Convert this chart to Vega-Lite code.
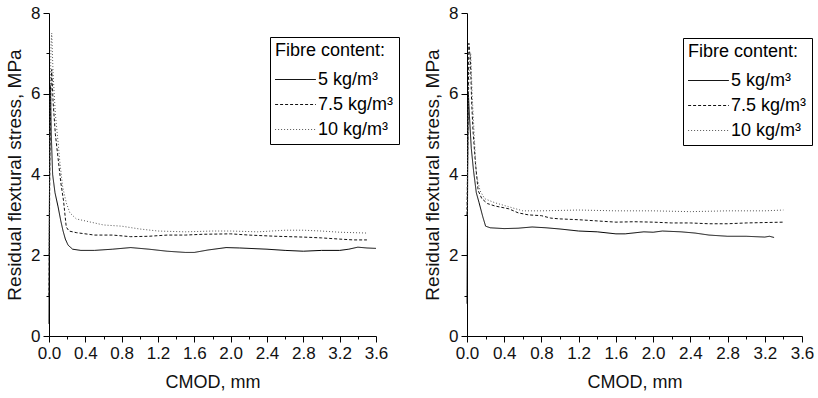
{
  "$schema": "https://vega.github.io/schema/vega-lite/v6.json",
  "background": "white",
  "padding": {"left": 5, "top": 4, "right": 0, "bottom": 2},
  "spacing": 23,
  "datasets": {
    "curves": [
      {"panel": "L", "fibre": "5 kg/m³", "cmod": 0, "stress": 0.3},
      {"panel": "L", "fibre": "5 kg/m³", "cmod": 0.004, "stress": 3.0},
      {"panel": "L", "fibre": "5 kg/m³", "cmod": 0.01, "stress": 5.5},
      {"panel": "L", "fibre": "5 kg/m³", "cmod": 0.016, "stress": 6.2},
      {"panel": "L", "fibre": "5 kg/m³", "cmod": 0.025, "stress": 5.0},
      {"panel": "L", "fibre": "5 kg/m³", "cmod": 0.04, "stress": 4.0},
      {"panel": "L", "fibre": "5 kg/m³", "cmod": 0.066, "stress": 3.55},
      {"panel": "L", "fibre": "5 kg/m³", "cmod": 0.1, "stress": 3.2},
      {"panel": "L", "fibre": "5 kg/m³", "cmod": 0.13, "stress": 2.85},
      {"panel": "L", "fibre": "5 kg/m³", "cmod": 0.155, "stress": 2.6},
      {"panel": "L", "fibre": "5 kg/m³", "cmod": 0.18, "stress": 2.4},
      {"panel": "L", "fibre": "5 kg/m³", "cmod": 0.21, "stress": 2.25},
      {"panel": "L", "fibre": "5 kg/m³", "cmod": 0.26, "stress": 2.15},
      {"panel": "L", "fibre": "5 kg/m³", "cmod": 0.35, "stress": 2.12},
      {"panel": "L", "fibre": "5 kg/m³", "cmod": 0.5, "stress": 2.12},
      {"panel": "L", "fibre": "5 kg/m³", "cmod": 0.7, "stress": 2.15},
      {"panel": "L", "fibre": "5 kg/m³", "cmod": 0.9, "stress": 2.19},
      {"panel": "L", "fibre": "5 kg/m³", "cmod": 1.1, "stress": 2.15},
      {"panel": "L", "fibre": "5 kg/m³", "cmod": 1.3, "stress": 2.1},
      {"panel": "L", "fibre": "5 kg/m³", "cmod": 1.5, "stress": 2.07},
      {"panel": "L", "fibre": "5 kg/m³", "cmod": 1.6, "stress": 2.07},
      {"panel": "L", "fibre": "5 kg/m³", "cmod": 1.75, "stress": 2.13},
      {"panel": "L", "fibre": "5 kg/m³", "cmod": 1.95, "stress": 2.19},
      {"panel": "L", "fibre": "5 kg/m³", "cmod": 2.1, "stress": 2.18},
      {"panel": "L", "fibre": "5 kg/m³", "cmod": 2.4, "stress": 2.15},
      {"panel": "L", "fibre": "5 kg/m³", "cmod": 2.6, "stress": 2.12},
      {"panel": "L", "fibre": "5 kg/m³", "cmod": 2.8, "stress": 2.1},
      {"panel": "L", "fibre": "5 kg/m³", "cmod": 3.0, "stress": 2.12},
      {"panel": "L", "fibre": "5 kg/m³", "cmod": 3.2, "stress": 2.12},
      {"panel": "L", "fibre": "5 kg/m³", "cmod": 3.3, "stress": 2.15},
      {"panel": "L", "fibre": "5 kg/m³", "cmod": 3.4, "stress": 2.2},
      {"panel": "L", "fibre": "5 kg/m³", "cmod": 3.5, "stress": 2.18},
      {"panel": "L", "fibre": "5 kg/m³", "cmod": 3.6, "stress": 2.17},

      {"panel": "L", "fibre": "7.5 kg/m³", "cmod": 0, "stress": 1.0},
      {"panel": "L", "fibre": "7.5 kg/m³", "cmod": 0.01, "stress": 4.5},
      {"panel": "L", "fibre": "7.5 kg/m³", "cmod": 0.02, "stress": 6.0},
      {"panel": "L", "fibre": "7.5 kg/m³", "cmod": 0.03, "stress": 6.6},
      {"panel": "L", "fibre": "7.5 kg/m³", "cmod": 0.045, "stress": 5.8},
      {"panel": "L", "fibre": "7.5 kg/m³", "cmod": 0.07, "stress": 5.0},
      {"panel": "L", "fibre": "7.5 kg/m³", "cmod": 0.1, "stress": 4.4},
      {"panel": "L", "fibre": "7.5 kg/m³", "cmod": 0.13, "stress": 3.8},
      {"panel": "L", "fibre": "7.5 kg/m³", "cmod": 0.16, "stress": 3.35},
      {"panel": "L", "fibre": "7.5 kg/m³", "cmod": 0.19, "stress": 2.7},
      {"panel": "L", "fibre": "7.5 kg/m³", "cmod": 0.22, "stress": 2.6},
      {"panel": "L", "fibre": "7.5 kg/m³", "cmod": 0.3, "stress": 2.56},
      {"panel": "L", "fibre": "7.5 kg/m³", "cmod": 0.5, "stress": 2.5},
      {"panel": "L", "fibre": "7.5 kg/m³", "cmod": 0.7, "stress": 2.5},
      {"panel": "L", "fibre": "7.5 kg/m³", "cmod": 0.9, "stress": 2.46},
      {"panel": "L", "fibre": "7.5 kg/m³", "cmod": 1.1, "stress": 2.47},
      {"panel": "L", "fibre": "7.5 kg/m³", "cmod": 1.3, "stress": 2.5},
      {"panel": "L", "fibre": "7.5 kg/m³", "cmod": 1.5, "stress": 2.5},
      {"panel": "L", "fibre": "7.5 kg/m³", "cmod": 1.7, "stress": 2.52},
      {"panel": "L", "fibre": "7.5 kg/m³", "cmod": 2.0, "stress": 2.53},
      {"panel": "L", "fibre": "7.5 kg/m³", "cmod": 2.2, "stress": 2.5},
      {"panel": "L", "fibre": "7.5 kg/m³", "cmod": 2.5, "stress": 2.47},
      {"panel": "L", "fibre": "7.5 kg/m³", "cmod": 2.8, "stress": 2.45},
      {"panel": "L", "fibre": "7.5 kg/m³", "cmod": 3.0, "stress": 2.43},
      {"panel": "L", "fibre": "7.5 kg/m³", "cmod": 3.2, "stress": 2.4},
      {"panel": "L", "fibre": "7.5 kg/m³", "cmod": 3.35, "stress": 2.38},
      {"panel": "L", "fibre": "7.5 kg/m³", "cmod": 3.5, "stress": 2.38},

      {"panel": "L", "fibre": "10 kg/m³", "cmod": 0, "stress": 2.0},
      {"panel": "L", "fibre": "10 kg/m³", "cmod": 0.012, "stress": 5.5},
      {"panel": "L", "fibre": "10 kg/m³", "cmod": 0.022, "stress": 7.2},
      {"panel": "L", "fibre": "10 kg/m³", "cmod": 0.03, "stress": 7.5},
      {"panel": "L", "fibre": "10 kg/m³", "cmod": 0.045, "stress": 6.5},
      {"panel": "L", "fibre": "10 kg/m³", "cmod": 0.07, "stress": 5.5},
      {"panel": "L", "fibre": "10 kg/m³", "cmod": 0.1, "stress": 4.8},
      {"panel": "L", "fibre": "10 kg/m³", "cmod": 0.12, "stress": 4.3},
      {"panel": "L", "fibre": "10 kg/m³", "cmod": 0.15, "stress": 3.7},
      {"panel": "L", "fibre": "10 kg/m³", "cmod": 0.19, "stress": 3.3},
      {"panel": "L", "fibre": "10 kg/m³", "cmod": 0.23, "stress": 3.05},
      {"panel": "L", "fibre": "10 kg/m³", "cmod": 0.3, "stress": 2.9},
      {"panel": "L", "fibre": "10 kg/m³", "cmod": 0.4, "stress": 2.85},
      {"panel": "L", "fibre": "10 kg/m³", "cmod": 0.6, "stress": 2.75},
      {"panel": "L", "fibre": "10 kg/m³", "cmod": 0.8, "stress": 2.72},
      {"panel": "L", "fibre": "10 kg/m³", "cmod": 1.0, "stress": 2.65},
      {"panel": "L", "fibre": "10 kg/m³", "cmod": 1.2, "stress": 2.6},
      {"panel": "L", "fibre": "10 kg/m³", "cmod": 1.5, "stress": 2.58},
      {"panel": "L", "fibre": "10 kg/m³", "cmod": 1.8, "stress": 2.6},
      {"panel": "L", "fibre": "10 kg/m³", "cmod": 2.0, "stress": 2.6},
      {"panel": "L", "fibre": "10 kg/m³", "cmod": 2.3, "stress": 2.58},
      {"panel": "L", "fibre": "10 kg/m³", "cmod": 2.6, "stress": 2.62},
      {"panel": "L", "fibre": "10 kg/m³", "cmod": 2.8, "stress": 2.62},
      {"panel": "L", "fibre": "10 kg/m³", "cmod": 3.0, "stress": 2.6},
      {"panel": "L", "fibre": "10 kg/m³", "cmod": 3.2, "stress": 2.57},
      {"panel": "L", "fibre": "10 kg/m³", "cmod": 3.5, "stress": 2.55},

      {"panel": "R", "fibre": "5 kg/m³", "cmod": 0, "stress": 0.8},
      {"panel": "R", "fibre": "5 kg/m³", "cmod": 0.005, "stress": 3.0},
      {"panel": "R", "fibre": "5 kg/m³", "cmod": 0.01, "stress": 5.3},
      {"panel": "R", "fibre": "5 kg/m³", "cmod": 0.015, "stress": 6.0},
      {"panel": "R", "fibre": "5 kg/m³", "cmod": 0.025, "stress": 5.5},
      {"panel": "R", "fibre": "5 kg/m³", "cmod": 0.046, "stress": 4.65},
      {"panel": "R", "fibre": "5 kg/m³", "cmod": 0.07, "stress": 4.1},
      {"panel": "R", "fibre": "5 kg/m³", "cmod": 0.1, "stress": 3.55},
      {"panel": "R", "fibre": "5 kg/m³", "cmod": 0.13, "stress": 3.3},
      {"panel": "R", "fibre": "5 kg/m³", "cmod": 0.17, "stress": 2.95},
      {"panel": "R", "fibre": "5 kg/m³", "cmod": 0.2, "stress": 2.72},
      {"panel": "R", "fibre": "5 kg/m³", "cmod": 0.25, "stress": 2.68},
      {"panel": "R", "fibre": "5 kg/m³", "cmod": 0.4, "stress": 2.66},
      {"panel": "R", "fibre": "5 kg/m³", "cmod": 0.55, "stress": 2.67},
      {"panel": "R", "fibre": "5 kg/m³", "cmod": 0.7, "stress": 2.7},
      {"panel": "R", "fibre": "5 kg/m³", "cmod": 0.85, "stress": 2.68},
      {"panel": "R", "fibre": "5 kg/m³", "cmod": 1.0, "stress": 2.65},
      {"panel": "R", "fibre": "5 kg/m³", "cmod": 1.2, "stress": 2.6},
      {"panel": "R", "fibre": "5 kg/m³", "cmod": 1.4, "stress": 2.58},
      {"panel": "R", "fibre": "5 kg/m³", "cmod": 1.6, "stress": 2.53},
      {"panel": "R", "fibre": "5 kg/m³", "cmod": 1.7, "stress": 2.53},
      {"panel": "R", "fibre": "5 kg/m³", "cmod": 1.9, "stress": 2.58},
      {"panel": "R", "fibre": "5 kg/m³", "cmod": 2.0, "stress": 2.57},
      {"panel": "R", "fibre": "5 kg/m³", "cmod": 2.1, "stress": 2.6},
      {"panel": "R", "fibre": "5 kg/m³", "cmod": 2.3, "stress": 2.58},
      {"panel": "R", "fibre": "5 kg/m³", "cmod": 2.45, "stress": 2.55},
      {"panel": "R", "fibre": "5 kg/m³", "cmod": 2.6, "stress": 2.5},
      {"panel": "R", "fibre": "5 kg/m³", "cmod": 2.8, "stress": 2.47},
      {"panel": "R", "fibre": "5 kg/m³", "cmod": 3.0, "stress": 2.47},
      {"panel": "R", "fibre": "5 kg/m³", "cmod": 3.2, "stress": 2.45},
      {"panel": "R", "fibre": "5 kg/m³", "cmod": 3.25, "stress": 2.47},
      {"panel": "R", "fibre": "5 kg/m³", "cmod": 3.3, "stress": 2.44},

      {"panel": "R", "fibre": "7.5 kg/m³", "cmod": 0, "stress": 3.0},
      {"panel": "R", "fibre": "7.5 kg/m³", "cmod": 0.01, "stress": 5.0},
      {"panel": "R", "fibre": "7.5 kg/m³", "cmod": 0.02, "stress": 7.25},
      {"panel": "R", "fibre": "7.5 kg/m³", "cmod": 0.03, "stress": 7.0},
      {"panel": "R", "fibre": "7.5 kg/m³", "cmod": 0.036, "stress": 6.9},
      {"panel": "R", "fibre": "7.5 kg/m³", "cmod": 0.05, "stress": 5.8},
      {"panel": "R", "fibre": "7.5 kg/m³", "cmod": 0.065, "stress": 5.07},
      {"panel": "R", "fibre": "7.5 kg/m³", "cmod": 0.09, "stress": 4.3},
      {"panel": "R", "fibre": "7.5 kg/m³", "cmod": 0.12, "stress": 3.6},
      {"panel": "R", "fibre": "7.5 kg/m³", "cmod": 0.16, "stress": 3.4},
      {"panel": "R", "fibre": "7.5 kg/m³", "cmod": 0.22, "stress": 3.28},
      {"panel": "R", "fibre": "7.5 kg/m³", "cmod": 0.3, "stress": 3.22},
      {"panel": "R", "fibre": "7.5 kg/m³", "cmod": 0.45, "stress": 3.15},
      {"panel": "R", "fibre": "7.5 kg/m³", "cmod": 0.55, "stress": 3.05},
      {"panel": "R", "fibre": "7.5 kg/m³", "cmod": 0.66, "stress": 3.0},
      {"panel": "R", "fibre": "7.5 kg/m³", "cmod": 0.8, "stress": 2.98},
      {"panel": "R", "fibre": "7.5 kg/m³", "cmod": 0.9, "stress": 2.92},
      {"panel": "R", "fibre": "7.5 kg/m³", "cmod": 1.0, "stress": 2.9},
      {"panel": "R", "fibre": "7.5 kg/m³", "cmod": 1.2, "stress": 2.88},
      {"panel": "R", "fibre": "7.5 kg/m³", "cmod": 1.4, "stress": 2.85},
      {"panel": "R", "fibre": "7.5 kg/m³", "cmod": 1.6, "stress": 2.82},
      {"panel": "R", "fibre": "7.5 kg/m³", "cmod": 1.8, "stress": 2.83},
      {"panel": "R", "fibre": "7.5 kg/m³", "cmod": 2.0, "stress": 2.82},
      {"panel": "R", "fibre": "7.5 kg/m³", "cmod": 2.2, "stress": 2.8},
      {"panel": "R", "fibre": "7.5 kg/m³", "cmod": 2.4, "stress": 2.8},
      {"panel": "R", "fibre": "7.5 kg/m³", "cmod": 2.6, "stress": 2.78},
      {"panel": "R", "fibre": "7.5 kg/m³", "cmod": 2.8, "stress": 2.78},
      {"panel": "R", "fibre": "7.5 kg/m³", "cmod": 3.0, "stress": 2.8},
      {"panel": "R", "fibre": "7.5 kg/m³", "cmod": 3.2, "stress": 2.81},
      {"panel": "R", "fibre": "7.5 kg/m³", "cmod": 3.4, "stress": 2.82},

      {"panel": "R", "fibre": "10 kg/m³", "cmod": 0, "stress": 3.0},
      {"panel": "R", "fibre": "10 kg/m³", "cmod": 0.012, "stress": 5.5},
      {"panel": "R", "fibre": "10 kg/m³", "cmod": 0.025, "stress": 6.8},
      {"panel": "R", "fibre": "10 kg/m³", "cmod": 0.04, "stress": 7.0},
      {"panel": "R", "fibre": "10 kg/m³", "cmod": 0.055, "stress": 6.0},
      {"panel": "R", "fibre": "10 kg/m³", "cmod": 0.07, "stress": 5.3},
      {"panel": "R", "fibre": "10 kg/m³", "cmod": 0.1, "stress": 4.0},
      {"panel": "R", "fibre": "10 kg/m³", "cmod": 0.14, "stress": 3.6},
      {"panel": "R", "fibre": "10 kg/m³", "cmod": 0.19, "stress": 3.4},
      {"panel": "R", "fibre": "10 kg/m³", "cmod": 0.3, "stress": 3.3},
      {"panel": "R", "fibre": "10 kg/m³", "cmod": 0.45, "stress": 3.2},
      {"panel": "R", "fibre": "10 kg/m³", "cmod": 0.6, "stress": 3.1},
      {"panel": "R", "fibre": "10 kg/m³", "cmod": 0.8, "stress": 3.1},
      {"panel": "R", "fibre": "10 kg/m³", "cmod": 1.2, "stress": 3.12},
      {"panel": "R", "fibre": "10 kg/m³", "cmod": 1.6, "stress": 3.1},
      {"panel": "R", "fibre": "10 kg/m³", "cmod": 2.0, "stress": 3.1},
      {"panel": "R", "fibre": "10 kg/m³", "cmod": 2.4, "stress": 3.08},
      {"panel": "R", "fibre": "10 kg/m³", "cmod": 2.8, "stress": 3.1},
      {"panel": "R", "fibre": "10 kg/m³", "cmod": 3.2, "stress": 3.1},
      {"panel": "R", "fibre": "10 kg/m³", "cmod": 3.4, "stress": 3.12}
    ]
  },
  "config": {
    "font": "Liberation Sans",
    "view": {"stroke": null},
    "axis": {
      "grid": false,
      "domainColor": "#000",
      "tickColor": "#000",
      "labelFont": "Liberation Sans",
      "labelFontSize": 17,
      "labelColor": "#111",
      "titleFont": "Liberation Sans",
      "titleFontSize": 18,
      "titleFontWeight": "normal",
      "titleColor": "#111"
    },
    "legend": {
      "titleFont": "Liberation Sans",
      "titleFontSize": 18,
      "titleFontWeight": "normal",
      "titleColor": "#000",
      "labelFont": "Liberation Sans",
      "labelFontSize": 18,
      "labelColor": "#000",
      "strokeColor": "#000",
      "fillColor": "#fff",
      "padding": 5,
      "rowPadding": 3,
      "titlePadding": 7,
      "symbolType": "M-1.7,0H1.7",
      "symbolSize": 576,
      "symbolOffset": 8,
      "labelOffset": 10,
      "symbolStrokeWidth": 1,
      "orient": "none"
    }
  },
  "resolve": {"scale": {"color": "independent", "strokeDash": "independent"}, "legend": {"color": "independent", "strokeDash": "independent"}},
  "hconcat": [
    {
      "width": 327,
      "height": 323,
      "data": {"name": "curves"},
      "transform": [{"filter": "datum.panel == 'L'"}],
      "mark": {"type": "line", "strokeWidth": 1, "interpolate": "linear"},
      "encoding": {
        "x": {
          "field": "cmod", "type": "quantitative",
          "scale": {"domain": [0, 3.6], "nice": false, "zero": false},
          "axis": {
            "title": "CMOD, mm", "titlePadding": 12,
            "values": [0, 0.2, 0.4, 0.6, 0.8, 1.0, 1.2, 1.4, 1.6, 1.8, 2.0, 2.2, 2.4, 2.6, 2.8, 3.0, 3.2, 3.4, 3.6],
            "labelExpr": "round(datum.value*5) % 2 == 0 ? format(datum.value, '.1f') : ''",
            "tickSize": {"condition": {"test": "round(datum.value*5) % 2 == 1", "value": 3}, "value": 6},
            "labelPadding": 3,
            "labelFlush": false
          }
        },
        "y": {
          "field": "stress", "type": "quantitative",
          "scale": {"domain": [0, 8], "nice": false},
          "axis": {
            "title": "Residual flextural stress, MPa", "titlePadding": 6,
            "values": [0, 1, 2, 3, 4, 5, 6, 7, 8],
            "labelExpr": "datum.value % 2 == 0 ? format(datum.value, 'd') : ''",
            "tickSize": {"condition": {"test": "datum.value % 2 == 1", "value": 3}, "value": 6},
            "labelPadding": 3,
            "titleFontSize": 19
          }
        },
        "color": {
          "field": "fibre", "type": "nominal",
          "scale": {"domain": ["5 kg/m³", "7.5 kg/m³", "10 kg/m³"], "range": ["#000000", "#111111", "#555555"]},
          "legend": {"title": "Fibre content:", "legendX": 221, "legendY": 24}
        },
        "strokeDash": {
          "field": "fibre", "type": "nominal",
          "scale": {"domain": ["5 kg/m³", "7.5 kg/m³", "10 kg/m³"], "range": [[1, 0], [3, 2], [1, 2]]},
          "legend": {"title": "Fibre content:", "legendX": 221, "legendY": 24}
        }
      }
    },
    {
      "width": 335,
      "height": 323,
      "data": {"name": "curves"},
      "transform": [{"filter": "datum.panel == 'R'"}],
      "mark": {"type": "line", "strokeWidth": 1, "interpolate": "linear"},
      "encoding": {
        "x": {
          "field": "cmod", "type": "quantitative",
          "scale": {"domain": [0, 3.6], "nice": false, "zero": false},
          "axis": {
            "title": "CMOD, mm", "titlePadding": 12,
            "values": [0, 0.2, 0.4, 0.6, 0.8, 1.0, 1.2, 1.4, 1.6, 1.8, 2.0, 2.2, 2.4, 2.6, 2.8, 3.0, 3.2, 3.4, 3.6],
            "labelExpr": "round(datum.value*5) % 2 == 0 ? format(datum.value, '.1f') : ''",
            "tickSize": {"condition": {"test": "round(datum.value*5) % 2 == 1", "value": 3}, "value": 6},
            "labelPadding": 3,
            "labelFlush": false
          }
        },
        "y": {
          "field": "stress", "type": "quantitative",
          "scale": {"domain": [0, 8], "nice": false},
          "axis": {
            "title": "Residual flextural stress, MPa", "titlePadding": 6,
            "values": [0, 1, 2, 3, 4, 5, 6, 7, 8],
            "labelExpr": "datum.value % 2 == 0 ? format(datum.value, 'd') : ''",
            "tickSize": {"condition": {"test": "datum.value % 2 == 1", "value": 3}, "value": 6},
            "labelPadding": 3,
            "titleFontSize": 19
          }
        },
        "color": {
          "field": "fibre", "type": "nominal",
          "scale": {"domain": ["5 kg/m³", "7.5 kg/m³", "10 kg/m³"], "range": ["#000000", "#111111", "#555555"]},
          "legend": {"title": "Fibre content:", "legendX": 216, "legendY": 25}
        },
        "strokeDash": {
          "field": "fibre", "type": "nominal",
          "scale": {"domain": ["5 kg/m³", "7.5 kg/m³", "10 kg/m³"], "range": [[1, 0], [3, 2], [1, 2]]},
          "legend": {"title": "Fibre content:", "legendX": 216, "legendY": 25}
        }
      }
    }
  ]
}
